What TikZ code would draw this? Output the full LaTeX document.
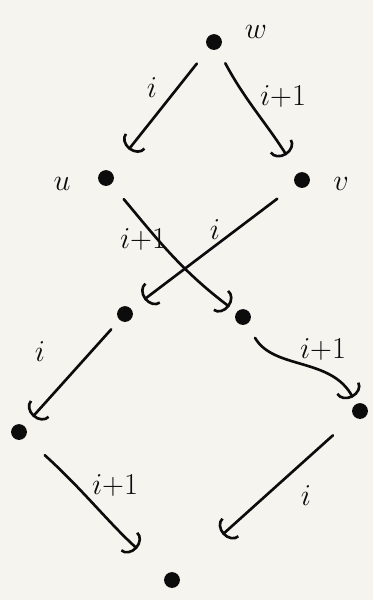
\documentclass[tikz,border=0pt]{standalone}
\usepackage{amsmath}
\usetikzlibrary{arrows.meta}
\definecolor{paperwhite}{RGB}{246,244,239}
\definecolor{inkblack}{RGB}{12,12,12}

\begin{document}
\begin{tikzpicture}[x=0.02cm,y=-0.02cm,line cap=round,line join=round,
  dot/.style={circle,fill=inkblack,inner sep=0pt,minimum size=9pt},
  hop/.style={inkblack,line width=1.5pt,
    -{Arc Barb[length=6pt,width=15pt,line width=1.5pt]}},
  tag/.style={font=\LARGE,inkblack}]
 \fill[paperwhite] (0,0) rectangle (373,600);
 \useasboundingbox (0,0) rectangle (373,600);
 % vertices
 \node[dot] (w) at (214,42) {};
 \node[dot] (u) at (106,178) {};
 \node[dot] (v) at (302,180) {};
 \node[dot] (ml) at (125,314) {};
 \node[dot] (mr) at (243,317) {};
 \node[dot] (lo) at (19,432) {};
 \node[dot] (ro) at (360,411) {};
 \node[dot] (bt) at (172,580) {};
 \node[tag] (wlab) at (256,32) {$w$};
 \node[tag] (ulab) at (62,184) {$u$};
 \node[tag] (vlab) at (341,184) {$v$};
 % edges
 \draw[hop,shorten <=11pt,shorten >=16pt] (w) -- (u);
 \draw[hop,shorten <=9pt,shorten >=12pt] (w) to[out=-62,in=122] (v);
 \draw[hop,shorten <=13pt,shorten >=9pt] (v) -- (ml);
 \draw[hop,shorten <=11pt,shorten >=5pt] (u) to[out=-50,in=143] (mr);
 \draw[hop,shorten <=7pt,shorten >=7pt] (ml) -- (lo);
 \draw[hop,shorten <=9pt,shorten >=4pt] (mr) to[out=-60,in=118] (ro);
 \draw[hop,shorten <=15pt,shorten >=22pt] (lo) to[out=-42,in=138] (bt);
 \draw[hop,shorten <=16pt,shorten >=34pt] (ro) -- (bt);
 \node[tag] (e1) at (152,88) {$i$};
 \node[tag] (e2) at (283,97) {$i{+}1$};
 \node[tag] (e3) at (215,230) {$i$};
 \node[tag] (e4) at (143,240) {$i{+}1$};
 \node[tag] (e5) at (40,352) {$i$};
 \node[tag] (e6) at (323,350) {$i{+}1$};
 \node[tag] (e7) at (115,486) {$i{+}1$};
 \node[tag] (e8) at (306,496) {$i$};
\end{tikzpicture}
\end{document}
